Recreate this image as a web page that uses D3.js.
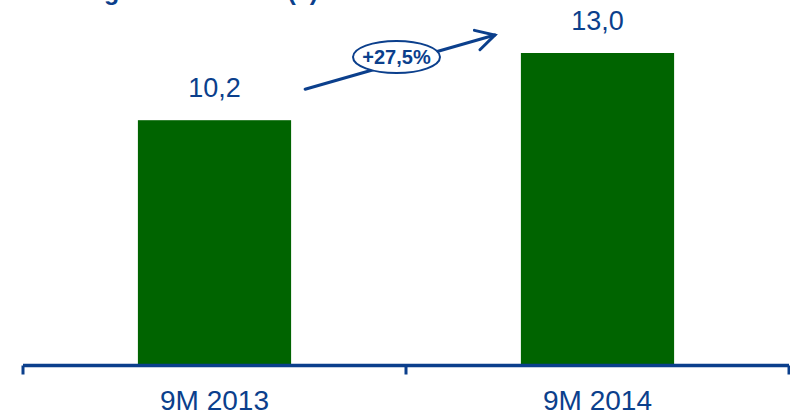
<!DOCTYPE html>
<html>
<head>
<meta charset="utf-8">
<script src="https://cdn.jsdelivr.net/npm/d3@7"></script>
<style>
  html, body { margin: 0; padding: 0; background: #fff; }
  svg { display: block; font-family: Arial, "Liberation Sans", sans-serif; }
</style>
</head>
<body>
<svg id="chart" width="790" height="414"></svg>
<script>
// Data
const categories = ["9M 2013", "9M 2014"];
const values = [10.2, 13.0];
const valueLabels = ["10,2", "13,0"];
const title = "Banking net revenues (€)";

const blue = "#0b3f8c";
const green = "#006400";

const svg = d3.select("#chart");

// Scales
const x = d3.scaleBand().domain(categories).range([23, 789]).padding(0);
const step = x.step();
const barW = step * 0.4;
const y = d3.scaleLinear().domain([0, 13]).range([365, 53]);

// Title (runs off the top edge; only descenders remain in view)
svg.append("text")
  .attr("x", 318).attr("y", -0.5)
  .attr("text-anchor", "end")
  .attr("font-size", 25).attr("font-weight", "bold")
  .attr("fill", blue)
  .text(title);

// Bars
svg.selectAll("rect.bar").data(values).join("rect")
  .attr("class", "bar")
  .attr("x", (d, i) => x(categories[i]) + (step - barW) / 2)
  .attr("width", barW)
  .attr("y", d => y(d))
  .attr("height", d => y(0) - y(d))
  .attr("fill", green);

// Value labels
svg.selectAll("text.val").data(values).join("text")
  .attr("class", "val")
  .attr("x", (d, i) => x(categories[i]) + step / 2)
  .attr("y", d => y(d) - 23)
  .attr("text-anchor", "middle")
  .attr("font-size", 27)
  .attr("fill", blue)
  .text((d, i) => valueLabels[i]);

// Axis line with ticks at the band edges
const axisY = 365.5;
const edges = [x.range()[0], ...categories.map(c => x(c) + step)];
svg.append("line")
  .attr("x1", edges[0]).attr("x2", edges[edges.length - 1])
  .attr("y1", axisY).attr("y2", axisY)
  .attr("stroke", blue).attr("stroke-width", 3.5);
svg.selectAll("line.tick").data(edges).join("line")
  .attr("class", "tick")
  .attr("x1", d => d).attr("x2", d => d)
  .attr("y1", axisY).attr("y2", axisY + 9)
  .attr("stroke", blue).attr("stroke-width", 3);

// Category labels
svg.selectAll("text.cat").data(categories).join("text")
  .attr("class", "cat")
  .attr("x", d => x(d) + step / 2)
  .attr("y", 410)
  .attr("text-anchor", "middle")
  .attr("font-size", 28)
  .attr("fill", blue)
  .text(d => d);

// Growth arrow between the two bars
const x0 = x(categories[0]) + (step + barW) / 2 + 14;
const y0 = y(values[0]) - 31;
const x1 = x(categories[1]) + (step - barW) / 2 - 26;
const y1 = y(values[1]) - 18;
const g = svg.append("g").attr("fill", "none").attr("stroke", blue)
  .attr("stroke-width", 3).attr("stroke-linecap", "round");
g.append("line").attr("x1", x0).attr("y1", y0).attr("x2", x1).attr("y2", y1);
const ang = Math.atan2(y1 - y0, x1 - x0);
const hl = 21, ha = 0.5;
g.append("path")
  .attr("d", `M${x1 - hl * Math.cos(ang - ha)},${y1 - hl * Math.sin(ang - ha)}L${x1},${y1}L${x1 - hl * Math.cos(ang + ha)},${y1 - hl * Math.sin(ang + ha)}`)
  .attr("stroke-linejoin", "miter");

// Growth bubble
const growth = (values[1] / values[0] - 1) * 100;
const cx = 396.5, cy = 57;
svg.append("ellipse")
  .attr("cx", cx).attr("cy", cy).attr("rx", 43.5).attr("ry", 16)
  .attr("fill", "#fff").attr("stroke", blue).attr("stroke-width", 2);
svg.append("text")
  .attr("x", cx).attr("y", cy + 7)
  .attr("text-anchor", "middle")
  .attr("font-size", 20).attr("font-weight", "bold")
  .attr("fill", blue)
  .text("+" + growth.toFixed(1).replace(".", ",") + "%");
</script>
</body>
</html>
